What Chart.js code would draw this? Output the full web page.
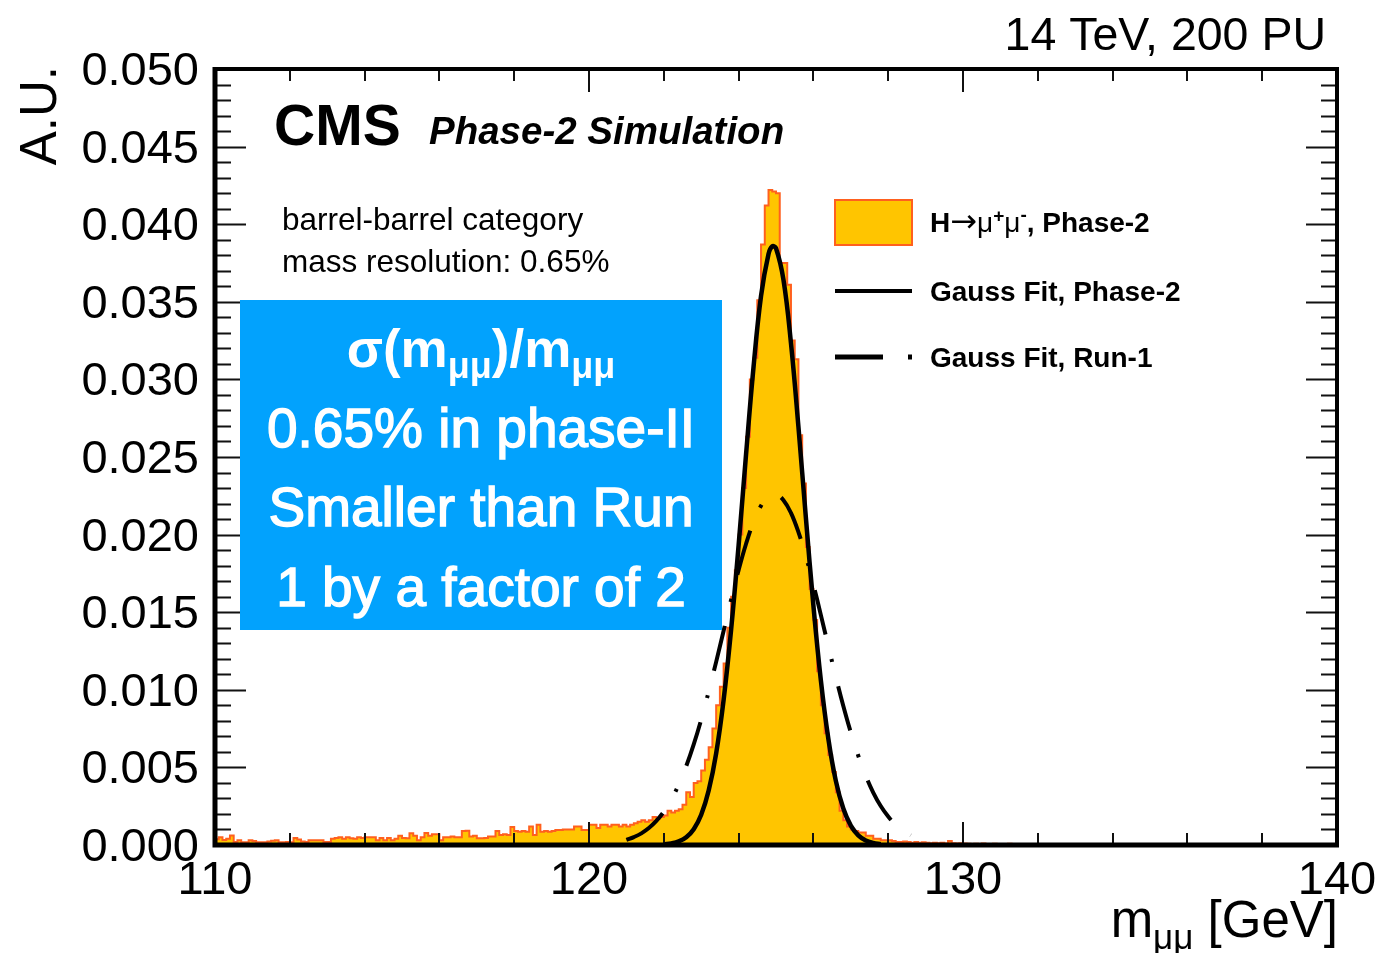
<!DOCTYPE html>
<html>
<head>
<meta charset="utf-8">
<script src="https://cdn.jsdelivr.net/npm/chart.js@4.4.0/dist/chart.umd.min.js"></script>
<style>
html,body{margin:0;padding:0;background:#fff;}
canvas{display:block;}
</style>
</head>
<body>
<canvas id="c" width="1381" height="953"></canvas>
<script>
// ---------- DATA ----------
const binStart = 110.0;   // GeV, left edge of first bin
const binWidth = 0.1;     // GeV
// H -> mu mu, Phase-2 histogram (A.U. per 0.1 GeV bin), 300 bins 110-140 GeV
const histValues = [
  0.00037,0.0005,0.00032,0.0004,0.00062,0.0002,0.0003,0.00017,0.00017,0.0003,
  0.00025,0.00017,0.00017,0.00017,0.00022,0.00027,0.0003,0.00017,0.00017,0.0002,
  0.00017,0.00045,0.00035,0.00022,0.0002,0.0003,0.0003,0.0003,0.0003,0.0002,
  0.0002,0.0004,0.00045,0.0005,0.0004,0.0005,0.00043,0.0004,0.0005,0.00045,
  0.0005,0.0005,0.0005,0.0003,0.00045,0.0003,0.00045,0.0003,0.0004,0.0006,
  0.00045,0.00043,0.00075,0.0006,0.0003,0.0005,0.00077,0.0006,0.0007,0.0007,
  0.0003,0.0005,0.0005,0.00055,0.0005,0.0005,0.0009,0.00092,0.00055,0.0006,
  0.00043,0.00043,0.00045,0.00055,0.00055,0.0009,0.00064,0.0007,0.00064,0.00116,
  0.0009,0.00086,0.0009,0.00086,0.0012,0.00064,0.0013,0.00086,0.0009,0.00086,
  0.0009,0.00096,0.00096,0.001,0.001,0.001,0.0012,0.0012,0.00096,0.00096,
  0.0013,0.0013,0.0011,0.0013,0.0013,0.0012,0.0013,0.0013,0.0012,0.0013,
  0.0012,0.0013,0.0014,0.0015,0.0016,0.0015,0.0016,0.0018,0.0017,0.0018,
  0.0019,0.0022,0.0021,0.0022,0.0023,0.0026,0.0034,0.0031,0.0040,0.0041,
  0.0048,0.0055,0.0063,0.0075,0.0090,0.0102,0.0117,0.0140,0.0160,0.0177,
  0.0200,0.0230,0.0263,0.0300,0.0314,0.0351,0.0387,0.0412,0.0422,0.0421,
  0.0420,0.0375,0.0375,0.0361,0.0325,0.0313,0.0264,0.0233,0.0192,0.0165,
  0.0145,0.0112,0.0090,0.0072,0.0058,0.0047,0.0034,0.0022,0.0016,0.0012,
  0.0010,0.0009,0.0008,0.0008,0.0006,0.0006,0.0004,0.0004,0.0003,0.0003,
  0.0003,0.00025,0.0002,0.0002,0.00022,0.0002,0.00015,0.0002,0.00015,0.00018,
  0.00015,0.00012,0.00015,0.00012,0.00015,0.0001,0.00025,0.00012,0.0001,0.00012,
  0.0001,0.00008,0.00006,0.00008,0.00006,0.0001,0.00006,0.00005,0.00008,0.00006,
  0.00005,0.00006,0.00008,0.00005,0.00006,0.00005,0.00004,0.00006,0.00005,0.00004,
  0.00006,0.00004,0.00005,0.00004,0.00006,0.00004,0.00005,0.00004,0.00003,0.00005,
  0.00004,0.00005,0.00003,0.00004,0.00006,0.00004,0.00003,0.00005,0.00004,0.00003,
  0.00004,0.00003,0.00005,0.00004,0.00003,0.00004,0.00003,0.00003,0.00005,0.00003,
  0.00004,0.00003,0.00003,0.00004,0.00002,0.00003,0.00004,0.00003,0.00003,0.00002,
  0.00003,0.00004,0.00003,0.00002,0.00003,0.00003,0.00002,0.00004,0.00003,0.00002,
  0.00003,0.00002,0.00003,0.00003,0.00002,0.00003,0.00002,0.00002,0.00003,0.00002,
  0.00002,0.00003,0.00002,0.00002,0.00003,0.00002,0.00002,0.00002,0.00003,0.00002,
  0.00002,0.00002,0.00003,0.00002,0.00002,0.00002,0.00002,0.00003,0.00002,0.00002
];
const fitPhase2X = [122.0,122.2,122.4,122.6,122.8,123.0,123.2,123.4,123.6,123.8,124.0,124.2,124.4,124.6,124.8,124.9,125.0,125.2,125.4,125.6,125.8,126.0,126.2,126.4,126.6,126.8,127.0,127.2,127.4,127.6,127.8];
const fitPhase2Y = [0.00004,0.0001,0.00023,0.0005,0.00102,0.00195,0.00351,0.00591,0.00936,0.01388,0.0193,0.02519,0.03082,0.03538,0.03808,0.03857,0.03845,0.03641,0.03234,0.02694,0.02105,0.01543,0.0106,0.00684,0.00413,0.00235,0.00125,0.00062,0.00029,0.00013,0.00005];
// Gauss fit, Run-1
const fitRun1X = [121.0,121.2,121.4,121.6,121.8,122.0,122.2,122.4,122.6,122.8,123.0,123.2,123.4,123.6,123.8,124.0,124.2,124.4,124.6,124.8,125.0,125.2,125.4,125.6,125.8,126.0,126.2,126.4,126.6,126.8,127.0,127.2,127.4,127.6,127.8,128.0,128.2,128.4,128.6];
const fitRun1Y = [0.00033,0.00051,0.00075,0.00109,0.00155,0.00215,0.00293,0.0039,0.00508,0.00648,0.00808,0.00988,0.0118,0.01381,0.01581,0.01771,0.01941,0.02083,0.02186,0.02246,0.02258,0.02222,0.0214,0.02016,0.01859,0.01678,0.01481,0.0128,0.01083,0.00896,0.00726,0.00575,0.00446,0.00338,0.00251,0.00183,0.0013,0.00091,0.00062];
// axis
const xMin = 110, xMax = 140, xStep = 10;
const yMin = 0, yMax = 0.05, yStep = 0.005;

// ---------- build datasets ----------
const histPoints = histValues.map((v, i) => ({x: +(binStart + i * binWidth).toFixed(2), y: v}));
histPoints.push({x: binStart + histValues.length * binWidth, y: histValues[histValues.length - 1]});
const p2Points = fitPhase2X.map((x, i) => ({x, y: fitPhase2Y[i]}));
const r1Points = fitRun1X.map((x, i) => ({x, y: fitRun1Y[i]}));

const FONT = "'Liberation Sans', Arial, Helvetica, sans-serif";
const HIST_FILL = 'rgb(255,197,0)';
const HIST_LINE = 'rgb(255,96,30)';
const BLUE = 'rgb(2,162,253)';

function richText(ctx, parts, x, y, align) {
  let total = 0;
  parts.forEach(p => { ctx.font = p.f; p.w = ctx.measureText(p.t).width; total += p.w; });
  let cx = align === 'right' ? x - total : align === 'center' ? x - total / 2 : x;
  parts.forEach(p => {
    ctx.font = p.f;
    ctx.textAlign = 'left';
    ctx.fillText(p.t, cx, y + (p.dy || 0));
    if (p.stroke) { ctx.strokeText(p.t, cx, y + (p.dy || 0)); }
    cx += p.w;
  });
}

const decor = {
  id: 'decor',
  afterDatasetsDraw(chart) {
    const {ctx, chartArea: a, scales: {x, y}} = chart;
    ctx.save();
    // inner ticks
    ctx.strokeStyle = '#111';
    ctx.lineWidth = 2;
    ctx.beginPath();
    for (let i = 0; i <= 50; i++) {
      const py = Math.round(y.getPixelForValue(i * 0.001)) + 0.5;
      const len = (i % 5 === 0) ? 31 : 16;
      ctx.moveTo(a.left, py); ctx.lineTo(a.left + len, py);
      ctx.moveTo(a.right, py); ctx.lineTo(a.right - len, py);
    }
    for (let g = xMin; g <= xMax; g += 2) {
      const px = Math.round(x.getPixelForValue(g));
      const len = (g % 10 === 0) ? 23 : 12;
      ctx.moveTo(px, a.bottom); ctx.lineTo(px, a.bottom - len);
      ctx.moveTo(px, a.top); ctx.lineTo(px, a.top + len);
    }
    ctx.stroke();
    // frame
    ctx.strokeStyle = '#000';
    ctx.lineWidth = 4;
    ctx.strokeRect(a.left, a.top, a.right - a.left, a.bottom - a.top);
    ctx.lineWidth = 5;
    ctx.beginPath();
    ctx.moveTo(a.left, a.top - 2); ctx.lineTo(a.left, a.bottom);
    ctx.lineTo(a.right + 2, a.bottom);
    ctx.stroke();
    ctx.restore();
  },
  afterDraw(chart) {
    const {ctx} = chart;
    ctx.save();
    ctx.fillStyle = '#000';
    ctx.textBaseline = 'alphabetic';
    // header
    ctx.font = '46.5px ' + FONT;
    ctx.textAlign = 'right';
    ctx.fillText('14 TeV, 200 PU', 1326, 50);
    // CMS label
    ctx.textAlign = 'left';
    ctx.font = 'bold 57px ' + FONT;
    ctx.fillText('CMS', 274, 145);
    ctx.font = 'italic bold 38.5px ' + FONT;
    ctx.fillText('Phase-2 Simulation', 429, 144);
    // category text
    ctx.font = '31.5px ' + FONT;
    ctx.fillText('barrel-barrel category', 282, 230);
    ctx.fillText('mass resolution: 0.65%', 282, 272);
    // y title
    ctx.save();
    ctx.translate(42, 66);
    ctx.rotate(-Math.PI / 2);
    ctx.font = '51px ' + FONT;
    ctx.textAlign = 'right';
    ctx.textBaseline = 'middle';
    ctx.fillText('A.U.', 0, 0);
    ctx.restore();
    // x title
    richText(ctx, [
      {t: 'm', f: '51px ' + FONT},
      {t: 'μμ', f: '35px ' + FONT, dy: 12},
      {t: ' [GeV]', f: '51px ' + FONT}
    ], 1338, 937, 'right');
    // legend
    ctx.fillStyle = HIST_FILL;
    ctx.fillRect(835, 200, 77, 45);
    ctx.strokeStyle = HIST_LINE;
    ctx.lineWidth = 2;
    ctx.strokeRect(835, 200, 77, 45);
    ctx.strokeStyle = '#000';
    ctx.lineWidth = 4;
    ctx.beginPath(); ctx.moveTo(835, 291); ctx.lineTo(912, 291); ctx.stroke();
    ctx.lineWidth = 5;
    ctx.beginPath(); ctx.moveTo(835, 357); ctx.lineTo(883, 357); ctx.moveTo(908, 357); ctx.lineTo(912, 357); ctx.stroke();
    ctx.fillStyle = '#000';
    richText(ctx, [
      {t: 'H', f: 'bold 28px ' + FONT},
      {t: '→', f: "32px 'DejaVu Sans', sans-serif"},
      {t: 'μ', f: '28px ' + FONT},
      {t: '+', f: 'bold 19px ' + FONT, dy: -10},
      {t: 'μ', f: '28px ' + FONT},
      {t: '-', f: 'bold 19px ' + FONT, dy: -11},
      {t: ', Phase-2', f: 'bold 28px ' + FONT}
    ], 930, 232, 'left');
    ctx.font = 'bold 28px ' + FONT;
    ctx.textAlign = 'left';
    ctx.fillText('Gauss Fit, Phase-2', 930, 301);
    ctx.fillText('Gauss Fit, Run-1', 930, 367);
    // blue annotation box
    ctx.fillStyle = BLUE;
    ctx.fillRect(240, 300, 482, 330);
    ctx.fillStyle = '#fff';
    ctx.strokeStyle = '#fff';
    ctx.lineWidth = 1.4;
    const big = '55px ' + FONT, sub = '36px ' + FONT;
    richText(ctx, [
      {t: 'σ(m', f: 'bold 53px ' + FONT},
      {t: 'μμ', f: 'bold ' + sub, dy: 11},
      {t: ')/m', f: 'bold 53px ' + FONT},
      {t: 'μμ', f: 'bold ' + sub, dy: 11}
    ], 481, 367, 'center');
    richText(ctx, [{t: '0.65% in phase-II', f: big, stroke: true}], 481, 447, 'center');
    richText(ctx, [{t: 'Smaller than Run', f: big, stroke: true}], 481, 526, 'center');
    richText(ctx, [{t: '1 by a factor of 2', f: big, stroke: true}], 481, 606, 'center');
    ctx.restore();
  }
};

new Chart(document.getElementById('c').getContext('2d'), {
  type: 'line',
  data: {
    datasets: [
      {
        label: 'H→μ+μ-, Phase-2',
        data: histPoints,
        stepped: true,
        fill: 'origin',
        backgroundColor: HIST_FILL,
        borderColor: HIST_LINE,
        borderWidth: 2,
        pointRadius: 0,
        order: 3
      },
      {
        label: 'Gauss Fit, Run-1',
        data: r1Points,
        borderColor: '#000',
        borderWidth: 4,
        borderDash: [46, 25, 3, 25],
        borderCapStyle: 'butt',
        tension: 0.4,
        fill: false,
        pointRadius: 0,
        order: 2
      },
      {
        label: 'Gauss Fit, Phase-2',
        data: p2Points,
        borderColor: '#000',
        borderWidth: 4.5,
        tension: 0.4,
        fill: false,
        pointRadius: 0,
        order: 1
      }
    ]
  },
  options: {
    responsive: false,
    animation: false,
    layout: {padding: {top: 69, right: 44, left: 0, bottom: 0}},
    plugins: {legend: {display: false}, tooltip: {enabled: false}},
    scales: {
      x: {
        type: 'linear', min: xMin, max: xMax,
        ticks: {stepSize: xStep, color: '#000', font: {family: FONT, size: 47}, padding: 0, maxRotation: 0, autoSkip: false,
                callback: v => String(v)},
        grid: {display: false}, border: {display: false},
        afterFit: s => { s.height = 108; }
      },
      y: {
        min: yMin, max: yMax,
        ticks: {stepSize: yStep, color: '#000', font: {family: FONT, size: 47}, padding: 8, autoSkip: false, labelOffset: 3,
                callback: v => v.toFixed(3)},
        grid: {display: false}, border: {display: false},
        afterFit: s => { s.width = 215; }
      }
    }
  },
  plugins: [decor]
});
</script>
</body>
</html>
